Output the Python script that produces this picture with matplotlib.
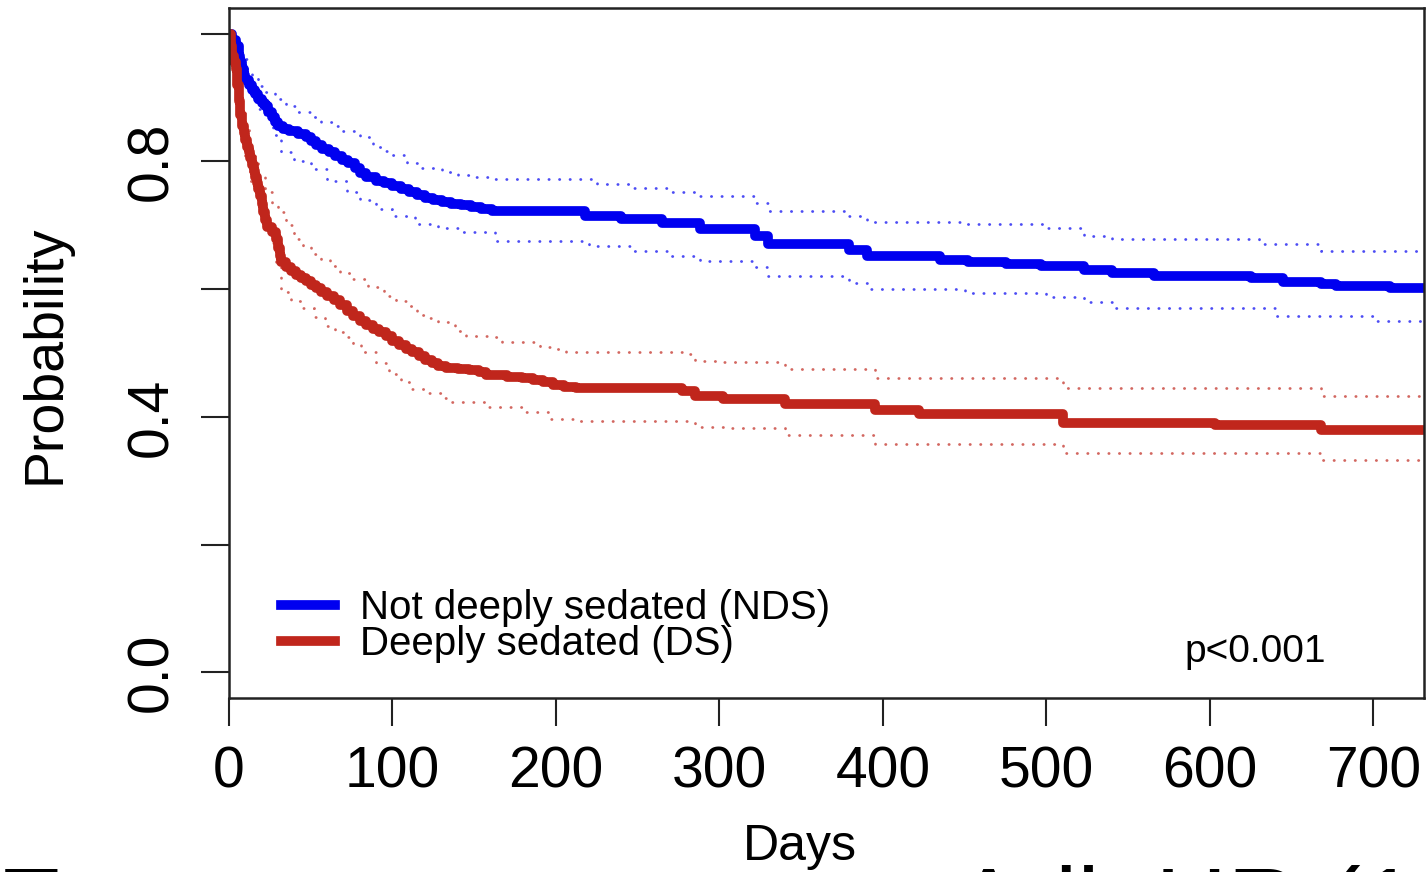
import numpy as np
import matplotlib
matplotlib.use("Agg")
import matplotlib.pyplot as plt

plt.rcParams["font.family"] = ["Liberation Sans", "DejaVu Sans"]

# Kaplan-Meier style step curves (days, probability)
nds_days = [0, 2, 4, 6, 7, 8, 9, 10, 12, 14, 16, 18, 20, 22, 24, 26, 28, 30, 33,
            37, 42, 47, 50, 53, 57, 61, 65, 69, 73, 77, 80, 84, 90, 95, 100, 105,
            110, 115, 120, 125, 130, 136, 142, 148, 154, 161, 218, 240, 265, 288,
            322, 330, 379, 390, 435, 452, 475, 497, 523, 540, 566, 625, 645, 668,
            677, 710, 731]
nds_prob = [1.0, 0.99, 0.98, 0.965, 0.955, 0.945, 0.935, 0.928, 0.92, 0.912, 0.905,
            0.898, 0.892, 0.886, 0.878, 0.87, 0.862, 0.856, 0.851, 0.847, 0.843,
            0.838, 0.832, 0.826, 0.82, 0.814, 0.808, 0.802, 0.797, 0.79, 0.782,
            0.775, 0.77, 0.766, 0.761, 0.757, 0.752, 0.747, 0.743, 0.74, 0.737,
            0.734, 0.731, 0.728, 0.725, 0.722, 0.714, 0.709, 0.703, 0.694, 0.683,
            0.670, 0.662, 0.652, 0.645, 0.642, 0.639, 0.636, 0.630, 0.625, 0.620,
            0.617, 0.611, 0.608, 0.605, 0.602, 0.602]

nds_up_days = [0, 3, 6, 8, 11, 14, 18, 22, 28, 35, 42, 50, 56, 63, 70, 80, 88, 94,
               100, 109, 118, 130, 140, 150, 163, 225, 245, 270, 288, 322, 330, 379,
               390, 450, 500, 523, 540, 630, 668, 731]
nds_up = [1.0, 0.99, 0.975, 0.96, 0.945, 0.93, 0.918, 0.908, 0.897, 0.886, 0.878,
          0.870, 0.862, 0.855, 0.848, 0.838, 0.823, 0.816, 0.81, 0.798, 0.79, 0.783,
          0.778, 0.775, 0.772, 0.764, 0.759, 0.752, 0.745, 0.735, 0.723, 0.715,
          0.705, 0.702, 0.696, 0.683, 0.678, 0.670, 0.659, 0.659]

nds_lo_days = [0, 3, 5, 7, 8, 10, 12, 15, 18, 22, 27, 32, 40, 50, 60, 72, 80, 90,
               100, 114, 128, 142, 163, 220, 245, 270, 288, 322, 330, 379, 390, 450,
               500, 523, 540, 640, 700, 731]
nds_lo = [1.0, 0.985, 0.975, 0.96, 0.948, 0.928, 0.908, 0.893, 0.882, 0.870, 0.842,
          0.814, 0.801, 0.788, 0.770, 0.752, 0.740, 0.725, 0.714, 0.702, 0.695,
          0.689, 0.675, 0.668, 0.660, 0.652, 0.644, 0.635, 0.620, 0.610, 0.600,
          0.594, 0.588, 0.580, 0.570, 0.558, 0.550, 0.548]

ds_days = [0, 1, 2, 3, 4, 5, 6, 7, 8, 9, 10, 11, 12, 13, 14, 15, 16, 17, 18, 19,
           20, 21, 22, 23, 26, 29, 30, 31, 32, 35, 38, 41, 44, 47, 50, 53, 56, 60,
           64, 68, 72, 76, 80, 84, 88, 92, 96, 100, 104, 108, 112, 116, 120, 124,
           128, 133, 140, 147, 153, 157, 170, 179, 186, 192, 198, 205, 212, 277,
           285, 302, 340, 395, 422, 510, 603, 668, 731]
ds_prob = [1.0, 0.98, 0.965, 0.955, 0.945, 0.92, 0.895, 0.872, 0.855, 0.845, 0.833,
           0.822, 0.814, 0.805, 0.795, 0.785, 0.776, 0.766, 0.756, 0.745, 0.733,
           0.72, 0.708, 0.698, 0.69, 0.678, 0.665, 0.652, 0.643, 0.635, 0.628,
           0.622, 0.618, 0.613, 0.607, 0.601, 0.596, 0.590, 0.583, 0.575, 0.566,
           0.558, 0.55, 0.544, 0.538, 0.533, 0.526, 0.519, 0.513, 0.507, 0.501,
           0.495, 0.489, 0.484, 0.479, 0.476, 0.475, 0.473, 0.471, 0.465, 0.463,
           0.461, 0.457, 0.454, 0.450, 0.447, 0.445, 0.440, 0.433, 0.428, 0.420,
           0.411, 0.405, 0.391, 0.388, 0.380, 0.380]

ds_up_days = [0, 2, 3, 4, 6, 8, 10, 12, 14, 18, 22, 26, 30, 35, 40, 45, 50, 56, 62,
              68, 75, 85, 95, 102, 109, 115, 122, 128, 138, 145, 163, 167, 190, 198,
              206, 277, 285, 302, 340, 395, 510, 668, 731]
ds_up = [1.0, 0.98, 0.96, 0.93, 0.90, 0.875, 0.85, 0.83, 0.808, 0.78, 0.752, 0.735,
         0.72, 0.70, 0.678, 0.666, 0.655, 0.645, 0.636, 0.626, 0.616, 0.603, 0.590,
         0.581, 0.573, 0.56, 0.554, 0.548, 0.535, 0.527, 0.525, 0.517, 0.510,
         0.506, 0.502, 0.498, 0.488, 0.486, 0.475, 0.461, 0.445, 0.433, 0.433]

ds_lo_days = [0, 2, 3, 4, 6, 8, 10, 13, 16, 20, 23, 26, 29, 32, 38, 45, 52, 59, 65,
              70, 76, 81, 90, 98, 105, 112, 120, 130, 135, 157, 179, 196, 212, 285,
              302, 340, 395, 510, 668, 731]
ds_lo = [1.0, 0.96, 0.93, 0.90, 0.86, 0.83, 0.80, 0.77, 0.745, 0.72, 0.698, 0.672,
         0.642, 0.595, 0.582, 0.570, 0.556, 0.542, 0.533, 0.525, 0.512, 0.502,
         0.485, 0.467, 0.455, 0.444, 0.437, 0.430, 0.423, 0.416, 0.408, 0.397,
         0.394, 0.384, 0.383, 0.372, 0.358, 0.344, 0.333, 0.333]

x_ticks = [0, 100, 200, 300, 400, 500, 600, 700]
y_ticks = [0.0, 0.2, 0.4, 0.6, 0.8, 1.0]
y_tick_labels = ["0.0", "", "0.4", "", "0.8", ""]

blue = "#0000F0"
red = "#C0261C"

fig = plt.figure(figsize=(14.27, 8.72), dpi=100)
ax = fig.add_axes([229 / 1427, 1 - 698 / 872, 1195 / 1427, 690 / 872])

# confidence bands (dotted)
for d, v, c in [(nds_up_days, nds_up, blue), (nds_lo_days, nds_lo, blue),
                (ds_up_days, ds_up, red), (ds_lo_days, ds_lo, red)]:
    ax.plot(d, v, drawstyle="steps-post", color=c, lw=2.0, alpha=0.7,
            dashes=(0.1, 3.7), dash_capstyle="round")

ax.plot(nds_days, nds_prob, drawstyle="steps-post", color=blue, lw=7,
        label="Not deeply sedated (NDS)")
ax.plot(ds_days, ds_prob, drawstyle="steps-post", color=red, lw=7,
        label="Deeply sedated (DS)")

ax.set_xlim(0, 731)
ax.set_ylim(-0.04, 1.04)
ax.set_xticks(x_ticks)
ax.set_yticks(y_ticks)
ax.set_yticklabels(y_tick_labels, rotation=90, va="center")
ax.tick_params(axis="both", length=20, width=1.5, color="#222222", labelsize=41)
ax.tick_params(axis="x", pad=14)
ax.tick_params(axis="y", pad=16)
for s in ax.spines.values():
    s.set_linewidth(1.8)
    s.set_color("#222222")

ax.legend(loc="lower left", bbox_to_anchor=(0.03, 0.027), frameon=False,
          fontsize=29, handlelength=1.35, handletextpad=0.6, labelspacing=-0.05,
          borderaxespad=0)
ax.text(0.918, 0.04, "p<0.001", transform=ax.transAxes, fontsize=28,
        ha="right", va="bottom")

fig.text(800 / 1427, 1 - 860 / 872, "Days", fontsize=36, ha="center",
         va="baseline")
fig.text(20 / 1427, 1 - 354 / 872, "Probability", fontsize=40, rotation=90,
         ha="left", va="center")

# slide title text cut off by the bottom edge of the picture
fig.text(-0.002, 1 - 938 / 872, "Ev", fontsize=72, ha="left", va="baseline")
fig.text(955 / 1427, 1 - 938 / 872, "Adj. HR (1.6", fontsize=72, ha="left",
         va="baseline")

fig.savefig("out.png", dpi=100)
